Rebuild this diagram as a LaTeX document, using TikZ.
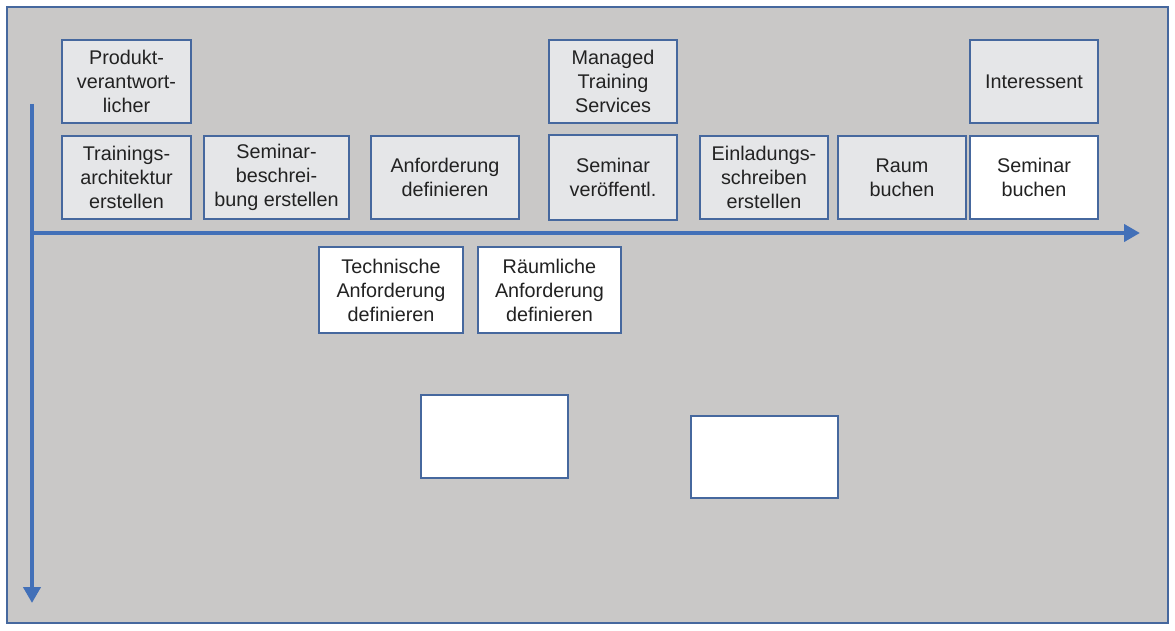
\documentclass[tikz,border=0pt]{standalone}
\usepackage{fontspec}
\setmainfont{Liberation Sans}
\usetikzlibrary{arrows.meta}
\definecolor{bg}{HTML}{C9C8C7}
\definecolor{boxfill}{HTML}{E5E6E8}
\definecolor{edge}{HTML}{46689E}
\definecolor{axis}{HTML}{4270B8}
\definecolor{txt}{HTML}{222222}
\tikzset{
  box/.style={draw=edge, line width=1.5pt, fill=boxfill, inner sep=0pt, align=center,
    text=txt, font=\fontsize{19.8}{24}\selectfont, minimum width=128pt, minimum height=83pt},
  wbox/.style={box, fill=white},
  axisline/.style={draw=axis, line width=4pt, -{Triangle[length=16pt,width=17pt]}}
}
\begin{document}
\begin{tikzpicture}[x=1pt,y=-1pt]
\useasboundingbox (0,0) rectangle (1175,631);
\fill[white] (0,0) rectangle (1175,631);
\draw[edge, line width=1.5pt, fill=bg] (7,7) rectangle (1168,623);

\coordinate (o) at (32,233);
\coordinate (top) at (32,104);
\coordinate (yend) at (32,603);
\coordinate (xend) at (1140,233);
\draw[axisline] (top) -- (yend);
\draw[axisline] (o) -- (xend);

\node[box, minimum width=129pt] (prod) at (126.5,81.5) {Produkt-\\verantwort-\\licher};
\node[box, minimum width=129pt] (train) at (126.5,177.5) {Trainings-\\architektur\\erstellen};
\node[box, minimum width=145pt] (semb) at (276.5,177.5) {Seminar-\\beschrei-\\bung erstellen};
\node[box, minimum width=148pt] (anf) at (445,177.5) {Anforderung\\definieren};
\node[box] (mts) at (613,81.5) {Managed\\Training\\Services};
\node[box, minimum height=85pt] (semv) at (613,177.5) {Seminar\\veröffentl.};
\node[box] (einl) at (764,177.5) {Einladungs-\\schreiben\\erstellen};
\node[box] (raum) at (902,177.5) {Raum\\buchen};
\node[wbox] (sembu) at (1034,177.5) {Seminar\\buchen};
\node[box] (inter) at (1034,81.5) {Interessent};
\node[wbox, minimum width=144pt, minimum height=86pt] (tech) at (391,290) {Technische\\Anforderung\\definieren};
\node[wbox, minimum width=143pt, minimum height=86pt] (raeum) at (549.5,290) {Räumliche\\Anforderung\\definieren};
\node[wbox, minimum width=147pt, minimum height=83pt] (b1) at (494.5,436.5) {};
\node[wbox, minimum width=147pt, minimum height=82pt] (b2) at (764.5,457) {};
\end{tikzpicture}
\end{document}
